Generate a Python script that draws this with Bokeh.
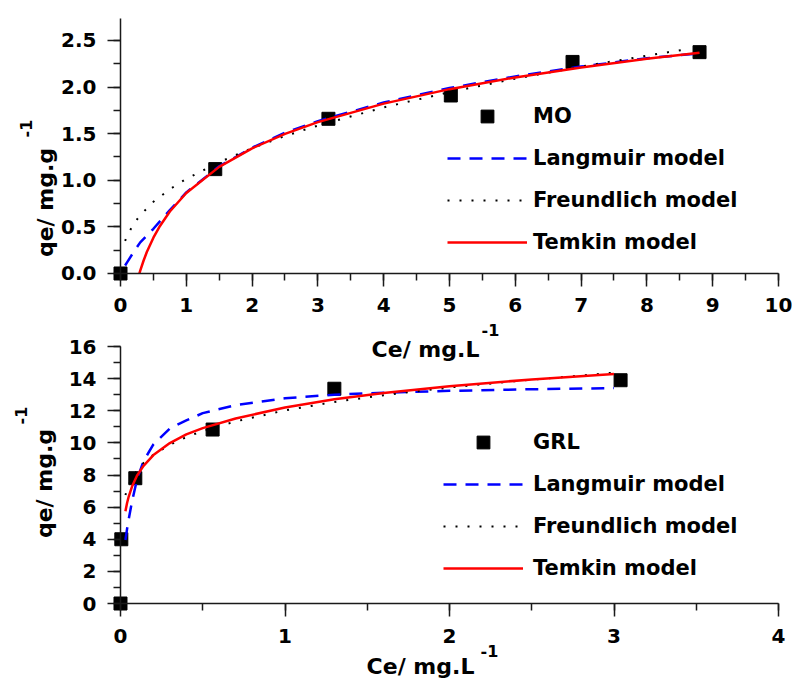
from bokeh.plotting import figure
from bokeh.models import (Legend, LegendItem, Label, LinearAxis, SingleIntervalTicker,
                          NumeralTickFormatter, Range1d)
from bokeh.embed import file_html
from bokeh.resources import INLINE

# ---------------- MO (top panel) ----------------
mo_ce = [0.0, 1.44, 3.16, 5.02, 6.87, 8.80]
mo_qe = [0.0, 1.12, 1.66, 1.91, 2.27, 2.375]

mo_lang_ce = [0.07, 0.1, 0.2, 0.3, 0.5, 0.75, 1.0, 1.5, 2.0, 2.5, 3.0, 4.0, 5.0, 6.0, 7.0, 8.0, 8.7]
mo_lang_qe = [0.086, 0.120, 0.231, 0.334, 0.48, 0.68, 0.87, 1.15, 1.35, 1.51, 1.635, 1.835,
              1.99, 2.115, 2.22, 2.31, 2.355]

mo_freu_ce = [0.07, 0.1, 0.2, 0.3, 0.5, 0.75, 1.0, 1.5, 2.0, 2.5, 3.0, 4.0, 5.0, 6.0, 7.0, 8.0, 8.6]
mo_freu_qe = [0.350, 0.403, 0.532, 0.626, 0.769, 0.905, 1.015, 1.194, 1.345, 1.475, 1.587, 1.782,
              1.946, 2.090, 2.220, 2.337, 2.406]

mo_temk_ce = [0.287, 0.3, 0.35, 0.4, 0.5, 0.6, 0.75, 1.0, 1.5, 2.0, 2.5, 3.0, 4.0, 5.0, 6.0, 7.0, 8.0, 8.8]
mo_temk_qe = [0.0, 0.031, 0.137, 0.230, 0.384, 0.510, 0.665, 0.864, 1.144, 1.343, 1.498, 1.624,
              1.823, 1.978, 2.104, 2.210, 2.303, 2.369]

# ---------------- GRL (bottom panel) ----------------
grl_ce = [0.0, 0.005, 0.09, 0.56, 1.30, 3.04]
grl_qe = [0.0, 4.0, 7.8, 10.83, 13.37, 13.9]

grl_model_ce = [0.03, 0.04, 0.05, 0.07, 0.1, 0.14, 0.2, 0.3, 0.4, 0.5, 0.7, 1.0, 1.3, 1.6, 2.0, 2.5, 3.0]
grl_lang_qe = [3.95, 4.65, 5.25, 6.35, 7.70, 8.87, 9.90, 10.90, 11.40, 11.85, 12.35, 12.78, 13.00,
               13.12, 13.24, 13.34, 13.41]
grl_freu_qe = [6.75, 7.10, 7.38, 7.80, 8.28, 8.75, 9.26, 9.88, 10.36, 10.74, 11.34, 12.02, 12.55,
               12.97, 13.45, 13.94, 14.37]
grl_temk_qe = [5.75, 6.26, 6.66, 7.28, 7.95, 8.57, 9.24, 9.99, 10.53, 10.92, 11.52, 12.20, 12.71,
               13.11, 13.53, 13.95, 14.29]

legend_labels = ["Langmuir model", "Freundlich model", "Temkin model"]
y_title = "qe/ mg.g"
x_title = "Ce/ mg.L"
sup = "-1"

FONT = "DejaVu Sans"
AX = "#1a1a1a"
W, H = 792, 679

# One canvas holding both panels; each panel has its own ranges and axes.
p = figure(width=W, height=H, output_backend="svg", toolbar_location=None, min_border=0,
           x_axis_type=None, y_axis_type=None,
           x_range=Range1d(-1.82371, 10.21277), y_range=Range1d(-4.35622, 2.92918))
p.extra_x_ranges = {"grl": Range1d(-0.729483, 4.085106)}
p.extra_y_ranges = {"grl": Range1d(-4.73152, 37.5409)}
p.outline_line_color = None
p.xgrid.visible = False
p.ygrid.visible = False
if p.title is not None:
    p.title.visible = False


def make_axis(kind, interval, fmt, bounds, rn, standoff):
    a = LinearAxis(ticker=SingleIntervalTicker(interval=interval, num_minor_ticks=2),
                   formatter=NumeralTickFormatter(format=fmt), fixed_location=0, bounds=bounds)
    if rn is not None:
        a.x_range_name = rn
        a.y_range_name = rn
    a.axis_line_color = AX
    a.axis_line_width = 1.5
    a.major_tick_line_color = AX
    a.minor_tick_line_color = AX
    a.major_tick_line_width = 1.5
    a.minor_tick_line_width = 1.5
    a.major_tick_in = 0
    a.major_tick_out = 13
    a.minor_tick_in = 0
    a.minor_tick_out = 7
    a.major_label_text_font = FONT
    a.major_label_text_font_style = "bold"
    a.major_label_text_font_size = "20px"
    a.major_label_text_color = "black"
    a.major_label_standoff = standoff
    p.add_layout(a, kind)


make_axis("below", 1, "0", (0, 10), None, 12)
make_axis("left", 0.5, "0.0", (0, 2.736), None, 11)
make_axis("below", 1, "0", (0, 4), "grl", 12)
make_axis("left", 2, "0", (0, 16), "grl", 11)


def add_models(ce_l, q_l, ce_f, q_f, ce_t, q_t, pts_ce, pts_q, name, loc, standoff, rn):
    kw = {} if rn is None else {"x_range_name": rn, "y_range_name": rn}
    r_pts = p.scatter(pts_ce, pts_q, marker="square", size=13, color="black", **kw)
    r_l = p.line(ce_l, q_l, line_color="#0000FF", line_width=2.5, line_dash="13 9", **kw)
    r_f = p.line(ce_f, q_f, line_color="black", line_width=2, line_dash="2 10", **kw)
    r_t = p.line(ce_t, q_t, line_color="#FF0000", line_width=2.5, **kw)
    leg = Legend(items=[LegendItem(label=name, renderers=[r_pts]),
                        LegendItem(label=legend_labels[0], renderers=[r_l]),
                        LegendItem(label=legend_labels[1], renderers=[r_f]),
                        LegendItem(label=legend_labels[2], renderers=[r_t])],
                 location=loc)
    leg.label_text_font = FONT
    leg.label_text_font_style = "bold"
    leg.label_text_font_size = "21px"
    leg.label_text_color = "black"
    leg.glyph_width = 80
    leg.glyph_height = 32
    leg.label_height = 20
    leg.label_standoff = standoff
    leg.spacing = 10
    leg.padding = 0
    leg.margin = 0
    leg.border_line_color = None
    leg.background_fill_alpha = 0
    p.add_layout(leg, "center")


add_models(mo_lang_ce, mo_lang_qe, mo_freu_ce, mo_freu_qe, mo_temk_ce, mo_temk_qe,
           mo_ce, mo_qe, "MO", (447, H - 258), 6, None)
add_models(grl_model_ce, grl_lang_qe, grl_model_ce, grl_freu_qe, grl_model_ce, grl_temk_qe,
           grl_ce, grl_qe, "GRL", (443, H - 584), 10, "grl")


def txt(text, px, py, size="22px", angle=0.0, align="center"):
    # px, py: canvas pixel position (from top-left) of the text centre
    p.add_layout(Label(x=px, y=H - py, x_units="screen", y_units="screen", text=text, angle=angle,
                       text_font=FONT, text_font_style="bold", text_font_size=size,
                       text_align=align, text_baseline="middle", text_color="black"))


R = 1.5708
# top panel titles
txt(y_title, 45, 202, angle=R)
txt(sup, 25, 128, size="16px", angle=R)
txt(x_title, 425, 349)
txt(sup, 490, 329, size="16px")
# bottom panel titles
txt(y_title, 44, 483, angle=R)
txt(sup, 20, 415, size="16px", angle=R)
txt(x_title, 420, 666)
txt(sup, 489, 650, size="16px")

open("out.html", "w").write(file_html(p, INLINE))
